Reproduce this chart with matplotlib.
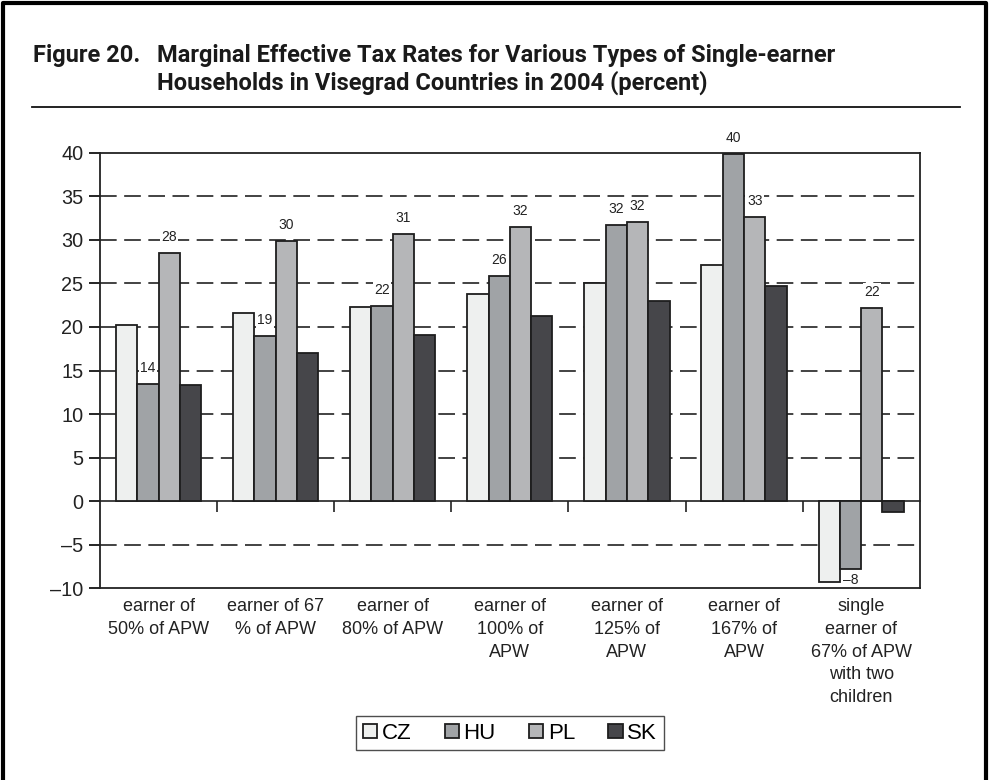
import numpy as np
import matplotlib
matplotlib.use("Agg")
import matplotlib.pyplot as plt
from matplotlib.lines import Line2D

# data
categories = ["earner of\n50% of APW", "earner of 67\n% of APW", "earner of\n80% of APW",
              "earner of\n100% of\nAPW", "earner of\n125% of\nAPW", "earner of\n167% of\nAPW",
              "single\nearner of\n67% of APW\nwith two\nchildren"]
countries = ["CZ", "HU", "PL", "SK"]
cz = [20.2, 21.6, 22.3, 23.8, 25.1, 27.1, -9.3]
hu = [13.4, 19.0, 22.4, 25.9, 31.7, 39.9, -7.8]
pl = [28.5, 29.9, 30.7, 31.5, 32.1, 32.6, 22.2]
sk = [13.3, 17.0, 19.1, 21.3, 23.0, 24.7, -1.3]
hu_labels = ["14", "19", "22", "26", "32", "40", "\u20138"]
pl_labels = ["28", "30", "31", "32", "32", "33", "22"]
yticks = [40, 35, 30, 25, 20, 15, 10, 5, 0, -5, -10]

colors = ["#eef0ef", "#a0a3a6", "#b5b6b8", "#46464a"]

plt.rcParams['font.family'] = ['Liberation Sans', 'DejaVu Sans']

fig = plt.figure(figsize=(9.9, 7.8), dpi=100)
ax = fig.add_axes([0.101, 0.246, 0.828, 0.558])

x = np.arange(len(categories))
w = 0.182
series = [cz, hu, pl, sk]
bars = []
for i, (vals, col, name) in enumerate(zip(series, colors, countries)):
    b = ax.bar(x + (i - 1.5) * w, vals, width=w, color=col, edgecolor="#1e1e1e",
               linewidth=1.3, label=name, zorder=3)
    bars.append(b)

# value labels on HU and PL bars
lab_box = dict(boxstyle="square,pad=0.1", fc="white", ec="none")
for b_set, labs in ((bars[1], hu_labels), (bars[2], pl_labels)):
    for rect, lab in zip(b_set, labs):
        h = rect.get_height()
        cx = rect.get_x() + rect.get_width() / 2
        if h >= 0:
            ax.annotate(lab, (cx, h), xytext=(0, 6.5), textcoords="offset points",
                        ha="center", va="bottom", fontsize=10, color="#222222",
                        bbox=lab_box, zorder=4)
        else:
            ax.annotate(lab, (cx, h), xytext=(0, -3), textcoords="offset points",
                        ha="center", va="top", fontsize=10, color="#222222", zorder=4)

ax.set_xlim(-0.5, len(categories) - 0.5)
ax.set_ylim(-10, 40)
ax.set_yticks(yticks)
ax.set_yticklabels([str(t).replace("-", "\u2013") for t in yticks], fontsize=14.3, color="#222222")
ax.tick_params(axis="y", length=8, width=1.2, direction="out", pad=4)
ax.set_xticks(x)
ax.set_xticklabels(categories, fontsize=13, color="#222222", linespacing=1.45)
ax.tick_params(axis="x", length=0, pad=7)

# dashed grid
for t in yticks[1:-1]:
    if t != 0:
        ax.axhline(t, color="#222222", lw=1.2, ls=(0, (10, 4.5)), zorder=1)

# zero line with category separator ticks
zero_ax = ax.secondary_xaxis(10 / 50)
zero_ax.set_xticks(x[:-1] + 0.5)
zero_ax.set_xticklabels([])
zero_ax.tick_params(length=8, width=1.2, direction="out", color="#222222")
zero_ax.spines["bottom"].set_linewidth(1.2)
zero_ax.spines["bottom"].set_color("#222222")

for s in ax.spines.values():
    s.set_linewidth(1.3)
    s.set_color("#222222")

leg = ax.legend(loc="upper center", bbox_to_anchor=(0.5, -0.294), borderaxespad=0, ncol=4,
                frameon=True, fontsize=16, handlelength=0.65, handleheight=0.65,
                handletextpad=0.2, columnspacing=1.5, borderpad=0.3, fancybox=False)
leg.get_frame().set_edgecolor("#222222")
leg.get_frame().set_linewidth(1.0)

# title
tfont = ['Roboto', 'DejaVu Sans']
fig.text(33 / 990, 1 - 62 / 780, "Figure 20.", fontsize=17, fontweight="bold",
         family=tfont, va="baseline", color="#1a1a1a")
fig.text(157 / 990, 1 - 62 / 780, "Marginal Effective Tax Rates for Various Types of Single-earner",
         fontsize=17, fontweight="bold", family=tfont, va="baseline", color="#1a1a1a")
fig.text(157 / 990, 1 - 90 / 780, "Households in Visegrad Countries in 2004 (percent)",
         fontsize=17, fontweight="bold", family=tfont, va="baseline", color="#1a1a1a")
fig.add_artist(Line2D([32 / 990, 960 / 990], [1 - 107 / 780, 1 - 107 / 780],
                      color="#111111", lw=1.3, transform=fig.transFigure))

# outer page frame (left, top, right)
fig.add_artist(Line2D([3 / 990, 3 / 990, 986 / 990, 986 / 990], [0, 1 - 3 / 780, 1 - 3 / 780, 0],
                      color="black", lw=3, transform=fig.transFigure))

fig.savefig("out.png", dpi=100)
